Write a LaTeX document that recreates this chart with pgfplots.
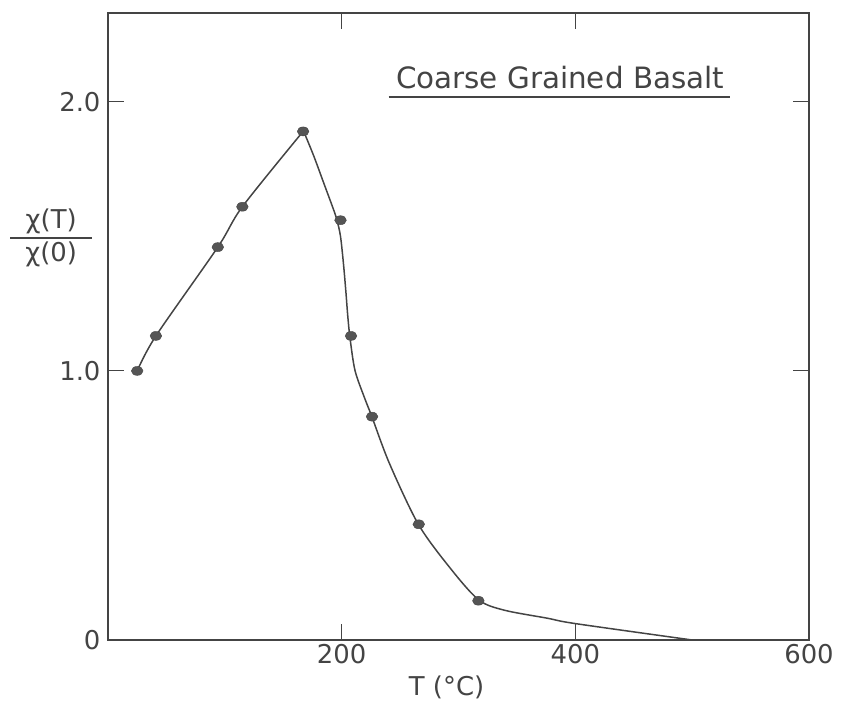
\documentclass[border=0pt]{standalone}
\usepackage{fontspec}
\setmainfont{DejaVu Sans}
\usepackage{pgfplots}
\usepackage{pgfplotstable}
\pgfplotsset{compat=1.18}
\definecolor{ink}{HTML}{444444}
\definecolor{dot}{HTML}{555555}

% measured points
\pgfplotstableread{
T chi
25  1.00
41  1.13
94  1.46
115 1.61
167 1.89
199 1.56
208 1.13
226 0.83
266 0.43
317 0.146
}\measured

% hand drawn curve, rising branch
\pgfplotstableread{
T chi
25  1.00
41  1.13
94  1.46
115 1.61
167 1.89
}\rising

% falling branch and tail
\pgfplotstableread{
T chi
167.5 1.89
176   1.80
184.5 1.70
193   1.60
196   1.56
199   1.50
201.5 1.40
203.5 1.30
205.3 1.20
207.2 1.12
211.5 1.00
220   0.895
225.6 0.833
240.8 0.657
265.5 0.431
292   0.272
317   0.15
339   0.111
376   0.081
400   0.061
500   0.0
}\falling

\begin{document}
\begin{tikzpicture}
\begin{axis}[
  scale only axis,
  width=701bp, height=627bp,
  xmin=0, xmax=600, ymin=0, ymax=2.33,
  axis line style={ink, line width=1.3bp},
  xtick={200,400,600},
  ytick={0,1,2}, yticklabels={0,1.0,2.0},
  tick align=inside,
  major tick length=16bp,
  tick style={ink, line width=1.2bp},
  every tick label/.append style={font=\fontsize{26}{30}\selectfont, text=ink},
  /pgf/number format/assume math mode=true,
  xticklabel style={yshift=-1bp},
  yticklabel style={xshift=-4bp},
  xlabel={T (°C)},
  xlabel style={at={(axis description cs:0.483,0)}, anchor=north, yshift=-32bp,
    font=\fontsize{26}{30}\selectfont, text=ink},
  clip=false,
]
\addplot[ink, line width=1.5bp, smooth, tension=0.5] table[x=T, y=chi] {\rising};
\addplot[ink, line width=1.5bp, smooth, tension=0.5] table[x=T, y=chi] {\falling};
\addplot[only marks, mark=*, mark size=4.5bp,
  mark options={xscale=1.3, fill=dot, draw=ink}] table[x=T, y=chi] {\measured};

\node[anchor=base, text=ink, font=\fontsize{29.5}{34}\selectfont] (title)
  at (axis description cs:0.645,0.879) {Coarse Grained Basalt};
\draw[ink, line width=1.4bp] ([xshift=-4bp,yshift=-8bp]title.base west) -- ([xshift=2bp,yshift=-8bp]title.base east);

\coordinate (frac) at (axis description cs:-0.081,0.641);
\node[anchor=south, inner sep=4bp, text=ink, font=\fontsize{26}{30}\selectfont] at (frac) {χ(T)};
\draw[ink, line width=1.3bp] ([xshift=-41bp]frac) -- ([xshift=41bp]frac);
\node[anchor=north, inner sep=4bp, text=ink, font=\fontsize{26}{30}\selectfont] at (frac) {χ(0)};
\end{axis}
\path ([xshift=-108bp,yshift=-69bp]current axis.south west) rectangle ([xshift=36bp,yshift=13bp]current axis.north east);
\end{tikzpicture}
\end{document}
